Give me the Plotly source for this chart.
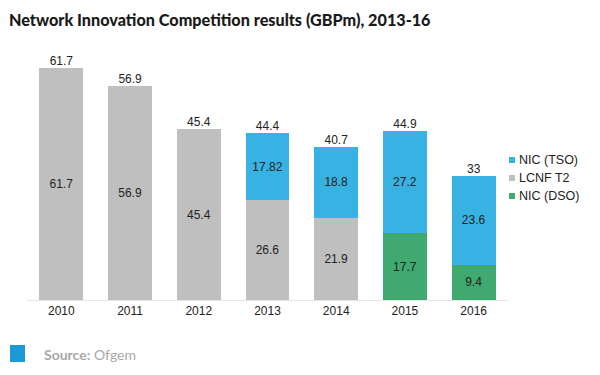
import plotly.graph_objects as go

years = ["2010", "2011", "2012", "2013", "2014", "2015", "2016"]
nic_dso = [None, None, None, None, None, 17.7, 9.4]
lcnf_t2 = [61.7, 56.9, 45.4, 26.6, 21.9, None, None]
nic_tso = [None, None, None, 17.82, 18.8, 27.2, 23.6]
totals = [61.7, 56.9, 45.4, 44.4, 40.7, 44.9, 33]
total_labels = ["61.7", "56.9", "45.4", "44.4", "40.7", "44.9", "33"]
legend_names = ["NIC (TSO)", "LCNF T2", "NIC (DSO)"]

C_TSO = "#38b2e2"
C_LCNF = "#c0bfbf"
C_DSO = "#3fa96f"
legend_colors = [C_TSO, C_LCNF, C_DSO]
FONT = "Liberation Sans, Arial, sans-serif"

def lbl(vals):
    return [("" if v is None else f"{v:g}") for v in vals]

fig = go.Figure()
fig.add_bar(x=years, y=nic_dso, name="NIC (DSO)", marker_color=C_DSO,
            text=lbl(nic_dso), textposition="inside", insidetextanchor="middle")
fig.add_bar(x=years, y=lcnf_t2, name="LCNF T2", marker_color=C_LCNF,
            text=lbl(lcnf_t2), textposition="inside", insidetextanchor="middle")
fig.add_bar(x=years, y=nic_tso, name="NIC (TSO)", marker_color=C_TSO,
            text=lbl(nic_tso), textposition="inside", insidetextanchor="middle")
fig.update_traces(selector=dict(type="bar"),
                  textfont=dict(family=FONT, size=12, color="#222222"),
                  marker_line_width=0, textangle=0)
fig.add_scatter(x=years, y=totals, mode="text", text=total_labels,
                textposition="top center", showlegend=False,
                textfont=dict(family=FONT, size=12, color="#222222"),
                cliponaxis=False, hoverinfo="skip")

fig.update_layout(
    width=600, height=375,
    barmode="stack", bargap=0.36,
    paper_bgcolor="white", plot_bgcolor="white",
    margin=dict(l=27, r=92, t=50, b=75, autoexpand=False),
    title=dict(text="Network Innovation Competition results (GBPm), 2013-16",
               xref="container", yref="container", x=0.015, y=0.947,
               xanchor="left", yanchor="middle",
               font=dict(family="Lato, sans-serif", size=16.2, color="#1a1a1a",
                         weight=900)),
    xaxis=dict(showgrid=False, showline=True, linecolor="#e6e6e6", linewidth=1,
               ticks="", tickfont=dict(family=FONT, size=12, color="#222222")),
    yaxis=dict(range=[0, 66.5], visible=False, showgrid=False),
    showlegend=False,
)

# custom compact legend (plot area: x 27..508 px, y 50..300 px)
def px_x(p):
    return (p - 27) / 481.0

def px_y(p):
    return (300 - p) / 250.0

for i, (name, col) in enumerate(zip(legend_names, legend_colors)):
    cy = 160 + i * 18
    fig.add_shape(type="rect", xref="paper", yref="paper",
                  x0=px_x(509), x1=px_x(515), y0=px_y(cy - 3), y1=px_y(cy + 3),
                  fillcolor=col, line_width=0)
    fig.add_annotation(xref="paper", yref="paper", x=px_x(517), y=px_y(cy),
                       xanchor="left", yanchor="middle", showarrow=False,
                       text=name, font=dict(family=FONT, size=12.5, color="#222222"))

fig.add_shape(type="rect", xref="paper", yref="paper",
              x0=-0.0353, x1=-0.0042, y0=-0.18, y1=-0.248,
              fillcolor="#1a9ad9", line_width=0)
fig.add_annotation(xref="paper", yref="paper", x=0.031, y=-0.216,
                   xanchor="left", yanchor="middle", showarrow=False,
                   text="<b>Source:</b> Ofgem",
                   font=dict(family="Lato, sans-serif", size=14, color="#a8a8a8"))

fig.write_html("out.html", config={"displayModeBar": False},
               post_script="document.body.style.margin='0';")
